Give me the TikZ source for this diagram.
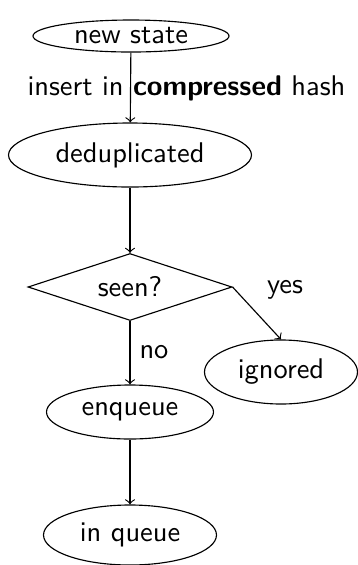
\documentclass[tikz,border=0pt]{standalone}
\usetikzlibrary{shapes.geometric}
\begin{document}
\begin{tikzpicture}[x=0.3515pt,y=-0.3515pt,
  every node/.style={font=\sffamily},
  state/.style={draw,ellipse,inner sep=0pt},
  test/.style={draw,diamond,inner sep=0pt,shape aspect=3.045},
  flow/.style={draw,->}]
\useasboundingbox (0,0) rectangle (357,565);
\node[state,minimum width=196*0.3515pt,minimum height=32*0.3515pt] (new) at (131,36) {new state};
\node[state,minimum width=243*0.3515pt,minimum height=64*0.3515pt] (dedup) at (130,155) {deduplicated};
\node[test,minimum width=204*0.3515pt,minimum height=67*0.3515pt] (seen) at (130,287) {seen?};
\node[state,minimum width=153*0.3515pt,minimum height=64*0.3515pt] (ign) at (281,372) {ignored};
\node[state,minimum width=167*0.3515pt,minimum height=54*0.3515pt] (enq) at (130,412) {enqueue};
\node[state,minimum width=173*0.3515pt,minimum height=60*0.3515pt] (inq) at (130,535) {in queue};
\node (lins) at (186.5,88) {insert in \textbf{compressed} hash};
\node (lyes) at (285,290) {yes};
\node (lno) at (154,352) {no};
\draw[flow] (new) -- (dedup);
\draw[flow] (dedup) -- (seen);
\draw[flow] (seen.east) -- (ign.north);
\draw[flow] (seen) -- (enq);
\draw[flow] (enq) -- (inq);
\end{tikzpicture}
\end{document}
